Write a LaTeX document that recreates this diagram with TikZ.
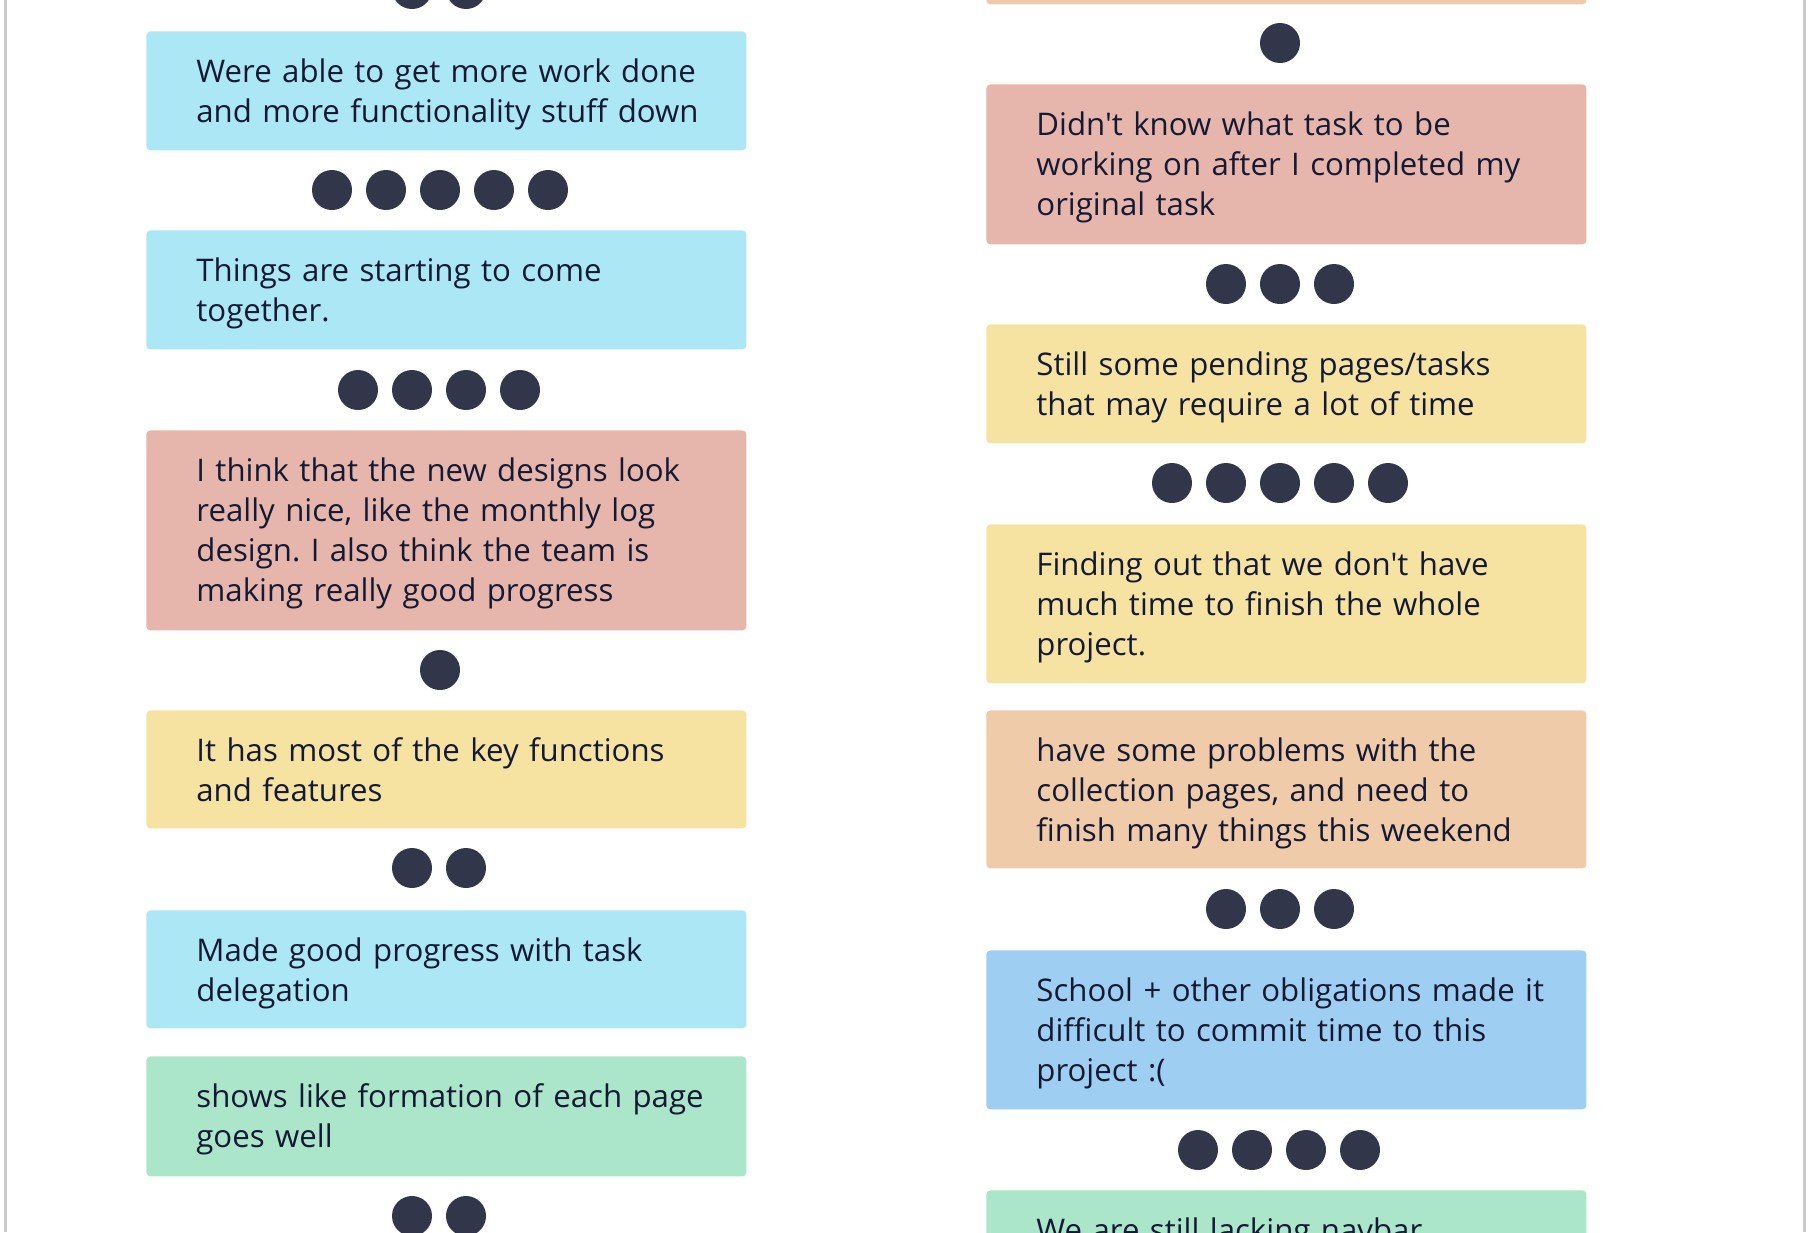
\documentclass[tikz,border=0pt]{standalone}
\usepackage{fontspec}
\setmainfont{Open Sans}[Ligatures=TeXOff]
\definecolor{ink}{HTML}{141A33}
\definecolor{dotc}{HTML}{32364B}
\definecolor{ncyan}{HTML}{ACE7F6}
\definecolor{nred}{HTML}{E6B5AB}
\definecolor{nyellow}{HTML}{F6E3A1}
\definecolor{npeach}{HTML}{F0CBA9}
\definecolor{nblue}{HTML}{9FCEF3}
\definecolor{ngreen}{HTML}{ABE6CA}
\definecolor{edge}{HTML}{CACACA}
\frenchspacing
\begin{document}
\begin{tikzpicture}[x=0.5pt,y=-0.5pt,
  note/.style={draw=none, rounded corners=2pt, anchor=north west,
    minimum width=300pt, inner sep=0pt},
  notetext/.style={anchor=base west, text width=285pt, align=left,
    inner sep=0pt, text=ink, font=\fontsize{15.6pt}{20.1pt}\selectfont},
  vote/.style={fill=dotc}]
\useasboundingbox (0,0) rectangle (1808,1232);
\clip (0,0) rectangle (1808,1232);

% page edges
\fill[edge] (4,0) rectangle (7,1232);
\fill[edge] (1803,0) rectangle (1806,1232);

% ---------- left column ----------
\foreach \x in {412,466} \fill[vote] (\x,-11) circle (20);

\node[note, fill=ncyan, minimum height=59.5pt] (L1) at (146,31) {};
\node[notetext] (L1t) at ([shift={(50,51)}]L1.north west)
  {Were able to get more work done\\and more functionality stuff down};
\foreach \x in {332,386,440,494,548} \fill[vote] (\x,190) circle (20);

\node[note, fill=ncyan, minimum height=59.5pt] (L2) at (146,230) {};
\node[notetext] (L2t) at ([shift={(50,51)}]L2.north west)
  {Things are starting to come\\together.};
\foreach \x in {358,412,466,520} \fill[vote] (\x,390) circle (20);

\node[note, fill=nred, minimum height=100pt] (L3) at (146,430) {};
\node[notetext] (L3t) at ([shift={(50,51)}]L3.north west)
  {I think that the new designs look\\really nice, like the monthly log\\design. I also think the team is\\making really good progress};
\fill[vote] (440,670) circle (20);

\node[note, fill=nyellow, minimum height=59pt] (L4) at (146,710) {};
\node[notetext] (L4t) at ([shift={(50,51)}]L4.north west)
  {It has most of the key functions\\and features};
\foreach \x in {412,466} \fill[vote] (\x,868) circle (20);

\node[note, fill=ncyan, minimum height=59pt] (L5) at (146,910) {};
\node[notetext] (L5t) at ([shift={(50,51)}]L5.north west)
  {Made good progress with task\\delegation};

\node[note, fill=ngreen, minimum height=60pt] (L6) at (146,1056) {};
\node[notetext] (L6t) at ([shift={(50,51)}]L6.north west)
  {shows like formation of each page\\goes well};
\foreach \x in {412,466} \fill[vote] (\x,1216) circle (20);

% ---------- right column ----------
\node[note, fill=npeach, minimum height=30pt] (R0) at (986,-56) {};
\fill[vote] (1280,43) circle (20);

\node[note, fill=nred, minimum height=80pt] (R1) at (986,84) {};
\node[notetext] (R1t) at ([shift={(50,51)}]R1.north west)
  {Didn't know what task to be\\working on after I completed my\\original task};
\foreach \x in {1226,1280,1334} \fill[vote] (\x,284) circle (20);

\node[note, fill=nyellow, minimum height=59.5pt] (R2) at (986,324) {};
\node[notetext] (R2t) at ([shift={(50,51)}]R2.north west)
  {Still some pending pages/tasks\\that may require a lot of time};
\foreach \x in {1172,1226,1280,1334,1388} \fill[vote] (\x,483) circle (20);

\node[note, fill=nyellow, minimum height=79.5pt] (R3) at (986,524) {};
\node[notetext] (R3t) at ([shift={(50,51)}]R3.north west)
  {Finding out that we don't have\\much time to finish the whole\\project.};

\node[note, fill=npeach, minimum height=79pt] (R4) at (986,710) {};
\node[notetext] (R4t) at ([shift={(50,51)}]R4.north west)
  {have some problems with the\\collection pages, and need to\\finish many things this weekend};
\foreach \x in {1226,1280,1334} \fill[vote] (\x,909) circle (20);

\node[note, fill=nblue, minimum height=79.5pt] (R5) at (986,950) {};
\node[notetext] (R5t) at ([shift={(50,51)}]R5.north west)
  {School + other obligations made it\\difficult to commit time to this\\project :(};
\foreach \x in {1198,1252,1306,1360} \fill[vote] (\x,1150) circle (20);

\node[note, fill=ngreen, minimum height=60pt] (R6) at (986,1190) {};
\node[notetext] (R6t) at ([shift={(50,51)}]R6.north west)
  {We are still lacking navbar};
\end{tikzpicture}
\end{document}
